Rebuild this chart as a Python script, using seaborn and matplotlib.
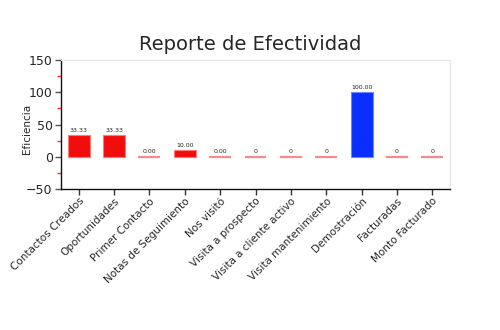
import matplotlib
matplotlib.use("Agg")
import matplotlib.pyplot as plt
import seaborn as sns
import pandas as pd
from matplotlib.ticker import MultipleLocator

categories = ["Contactos Creados", "Oportunidades", "Primer Contacto", "Notas de Seguimiento",
              "Nos visitó", "Visita a prospecto", "Visita a cliente activo", "Visita mantenimiento",
              "Demostración", "Facturadas", "Monto Facturado"]
values = [33.33, 33.33, 0.00, 10.00, 0.00, 0, 0, 0, 100.00, 0, 0]
value_labels = ["33.33", "33.33", "0.00", "10.00", "0.00", "0", "0", "0", "100.00", "0", "0"]

sns.set_style("white")
plt.rcParams['font.family'] = ['DejaVu Sans']

df = pd.DataFrame({"cat": categories, "val": values})

def fill(v, c):
    if c == "Demostración":
        return "#0a2eff"
    return "#f20d0d" if v > 0 else "#f88a8a"

def edge(v, c):
    if c == "Demostración":
        return "#6b85ff"
    return "#ff7a7a" if v > 0 else "#f88a8a"

fills = [fill(v, c) for v, c in zip(values, categories)]
edges = [edge(v, c) for v, c in zip(values, categories)]

fig = plt.figure(figsize=(5, 3.3), dpi=100)
ax = fig.add_axes([0.122, 0.427, 0.778, 0.391])
sns.barplot(data=df, x="cat", y="val", hue="cat", palette=fills, legend=False,
            width=0.62, ax=ax, saturation=1)
for patch, ec, v in zip(ax.patches, edges, values):
    patch.set_edgecolor(ec)
    patch.set_linewidth(0.8 if v > 0 else 1.6)

for i, (v, lab) in enumerate(zip(values, value_labels)):
    ax.text(i, v + 4, lab, ha="center", va="bottom", fontsize=4.5)

ax.set_ylim(-50, 150)
ax.set_xlim(-0.5, len(categories) - 0.5)
ax.yaxis.set_major_locator(MultipleLocator(50))
ax.yaxis.set_minor_locator(MultipleLocator(25))
ax.tick_params(axis="y", which="major", length=4, width=1, color="#555555", labelsize=9, pad=2, direction="out", left=True)
ax.tick_params(axis="y", which="minor", length=3, width=1, color="#ff3030", left=True)
ax.tick_params(axis="x", length=4, width=1, color="#333333", labelsize=7.5, pad=1, bottom=True)
plt.setp(ax.get_xticklabels(), rotation=45, ha="right", rotation_mode="anchor")

for s in ["top", "right"]:
    ax.spines[s].set_color("#e6e6e6")
    ax.spines[s].set_linewidth(0.8)
ax.spines["top"].set_linestyle((0, (3, 1)))
ax.spines["left"].set_color("#111111")
ax.spines["bottom"].set_color("#111111")
ax.spines["left"].set_linewidth(1)
ax.spines["bottom"].set_linewidth(1)

ax.set_xlabel("")
ax.set_ylabel("Eficiencia", fontsize=7.5)
ax.yaxis.set_label_coords(-0.075, 0.47)
fig.text(0.5, 0.865, "Reporte de Efectividad", ha="center", va="center", fontsize=14)

fig.savefig("out.png", dpi=100)
